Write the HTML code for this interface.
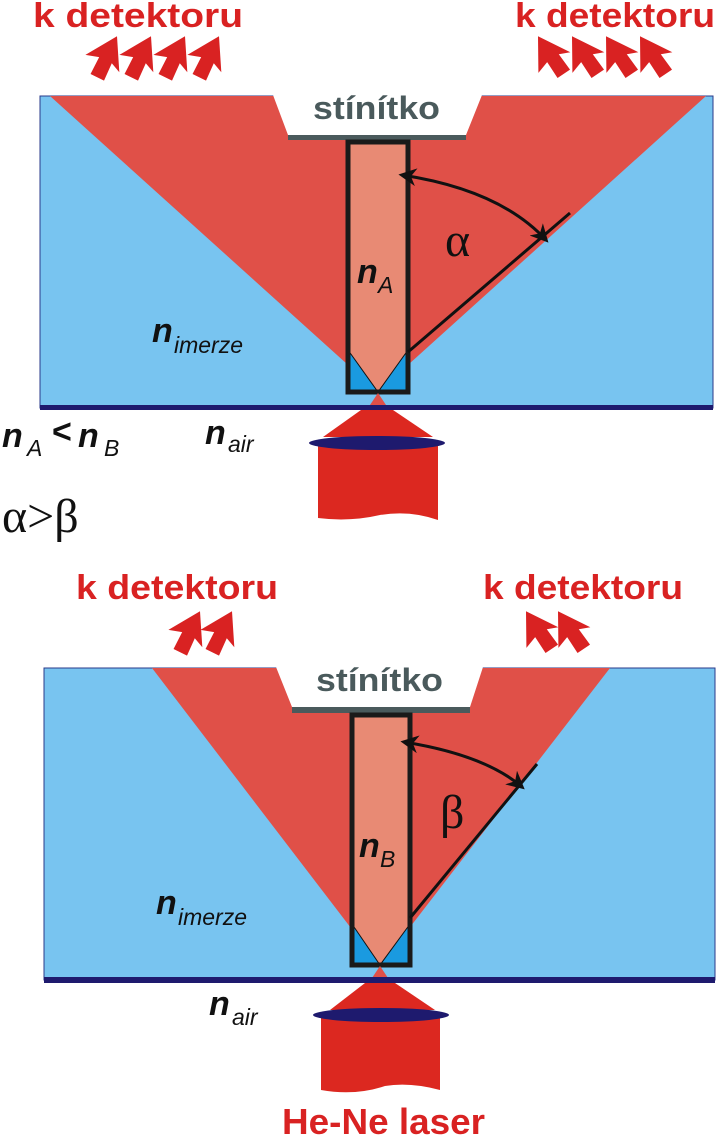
<!DOCTYPE html>
<html><head><meta charset="utf-8"><style>
html,body{margin:0;padding:0;background:#fff;}
svg{display:block;}
.det{font-family:"Liberation Sans",sans-serif;font-weight:bold;fill:#d92222;font-size:34px;}
.st{font-family:"Liberation Sans",sans-serif;font-weight:bold;fill:#4a5a5c;font-size:32px;}
.n{font-family:"Liberation Sans",sans-serif;font-weight:bold;font-style:italic;fill:#111;font-size:34px;}
.sub{font-family:"Liberation Sans",sans-serif;font-style:italic;fill:#111;font-size:23px;}
.gr{font-family:"Liberation Serif",serif;fill:#111;font-size:48px;}
</style></head><body>
<svg width="717" height="1138" viewBox="0 0 717 1138" xmlns="http://www.w3.org/2000/svg">
<defs>
<polygon id="ar" points="0,-24 20,6 9,2 11,21 -4,22 -5,3 -18,8"/>
<marker id="mh" viewBox="0 0 10 10" refX="8" refY="5" markerWidth="6" markerHeight="6" orient="auto-start-reverse"><path d="M0,0 L10,5 L0,10 L3,5 z" fill="#111"/></marker>
</defs>

<!-- ===== TOP PANEL ===== -->
<text class="det" x="33" y="27" textLength="210" lengthAdjust="spacingAndGlyphs">k detektoru</text>
<text class="det" x="515" y="27" textLength="200" lengthAdjust="spacingAndGlyphs">k detektoru</text>
<g fill="#d92222">
<use href="#ar" transform="translate(105,57) rotate(30)"/>
<use href="#ar" transform="translate(139,57) rotate(30)"/>
<use href="#ar" transform="translate(173,57) rotate(30)"/>
<use href="#ar" transform="translate(207,57) rotate(30)"/>
<use href="#ar" transform="translate(550,57) rotate(-30)"/>
<use href="#ar" transform="translate(584,57) rotate(-30)"/>
<use href="#ar" transform="translate(618,57) rotate(-30)"/>
<use href="#ar" transform="translate(652,57) rotate(-30)"/>
</g>
<rect x="40" y="96" width="673" height="312" fill="#78c4f0" stroke="#2a3a8a" stroke-width="1"/>
<polygon points="50,96 706,96 378,392" fill="#e05048"/>
<polygon points="273,95 482,95 466,135 288,135" fill="#fff"/>
<text class="st" x="313" y="119" textLength="127" lengthAdjust="spacingAndGlyphs">stínítko</text>
<rect x="288" y="135" width="178" height="5" fill="#4a5a5c"/>
<rect x="348" y="142" width="60" height="250" fill="#1a9ae0"/>
<polygon points="348,142 408,142 408,350 378,392 348,350" fill="#e88a74"/>
<line x1="348" y1="350" x2="378" y2="392" stroke="#111" stroke-width="1"/>
<line x1="408" y1="350" x2="378" y2="392" stroke="#111" stroke-width="1"/>
<rect x="348" y="142" width="60" height="250" fill="none" stroke="#1a1a1a" stroke-width="5"/>
<line x1="408" y1="352" x2="570" y2="213" stroke="#111" stroke-width="3"/>
<path d="M402,175 Q500,190 546,240" fill="none" stroke="#111" stroke-width="3" marker-start="url(#mh)" marker-end="url(#mh)"/>
<text class="gr" x="445" y="256">α</text>
<text class="n" x="357" y="283">n</text><text class="sub" x="378" y="293">A</text>
<text class="n" x="152" y="342">n</text><text class="sub" x="174" y="353">imerze</text>
<polygon points="370,405 378,393 386,405" fill="#e05048"/>
<rect x="40" y="405" width="673" height="5" fill="#1e1a6e"/>
<polygon points="361,410 393,410 433,437 323,437" fill="#dc2820"/>
<path d="M318,443 L438,443 L438,520 Q410,510 380,515 Q350,522 318,518 Z" fill="#dc2820"/>
<ellipse cx="377" cy="443" rx="68" ry="7" fill="#1e1a6e"/>
<text class="n" x="2" y="447">n</text><text class="sub" x="27" y="456">A</text>
<text class="n" x="52" y="443" style="font-style:normal">&lt;</text>
<text class="n" x="78" y="447">n</text><text class="sub" x="104" y="456">B</text>
<text class="n" x="205" y="444">n</text><text class="sub" x="228" y="452">air</text>
<text class="gr" x="2" y="532">α&gt;β</text>

<!-- ===== BOTTOM PANEL ===== -->
<text class="det" x="76" y="599" textLength="202" lengthAdjust="spacingAndGlyphs">k detektoru</text>
<text class="det" x="483" y="599" textLength="200" lengthAdjust="spacingAndGlyphs">k detektoru</text>
<g fill="#d92222">
<use href="#ar" transform="translate(188,632) rotate(30)"/>
<use href="#ar" transform="translate(220,632) rotate(30)"/>
<use href="#ar" transform="translate(538,632) rotate(-30)"/>
<use href="#ar" transform="translate(570,632) rotate(-30)"/>
</g>
<rect x="44" y="668" width="671" height="312" fill="#78c4f0" stroke="#2a3a8a" stroke-width="1"/>
<polygon points="152,668 610,668 380,966" fill="#e05048"/>
<polygon points="276,667 483,667 470,707 292,707" fill="#fff"/>
<text class="st" x="316" y="691" textLength="127" lengthAdjust="spacingAndGlyphs">stínítko</text>
<rect x="292" y="707" width="178" height="6" fill="#4a5a5c"/>
<rect x="352" y="715" width="58" height="250" fill="#1a9ae0"/>
<polygon points="352,715 410,715 410,924 380,965 352,924" fill="#e88a74"/>
<line x1="352" y1="924" x2="380" y2="965" stroke="#111" stroke-width="1"/>
<line x1="410" y1="924" x2="380" y2="965" stroke="#111" stroke-width="1"/>
<rect x="352" y="715" width="58" height="250" fill="none" stroke="#1a1a1a" stroke-width="5"/>
<line x1="410" y1="918" x2="537" y2="764" stroke="#111" stroke-width="3"/>
<path d="M404,742 Q485,755 522,787" fill="none" stroke="#111" stroke-width="3" marker-start="url(#mh)" marker-end="url(#mh)"/>
<text class="gr" x="440" y="828">β</text>
<text class="n" x="359" y="857">n</text><text class="sub" x="380" y="867">B</text>
<text class="n" x="156" y="914">n</text><text class="sub" x="178" y="925">imerze</text>
<polygon points="372,978 380,966 388,978" fill="#e05048"/>
<rect x="44" y="977" width="671" height="6" fill="#1e1a6e"/>
<polygon points="365,983 395,983 435,1010 330,1010" fill="#dc2820"/>
<path d="M321,1015 L440,1015 L440,1090 Q410,1082 385,1086 Q355,1096 321,1090 Z" fill="#dc2820"/>
<ellipse cx="381" cy="1015" rx="68" ry="7" fill="#1e1a6e"/>
<text class="n" x="209" y="1015">n</text><text class="sub" x="232" y="1025">air</text>
<text class="det" x="282" y="1134" style="font-size:36px" textLength="203" lengthAdjust="spacingAndGlyphs">He-Ne laser</text>
</svg>
</body></html>
